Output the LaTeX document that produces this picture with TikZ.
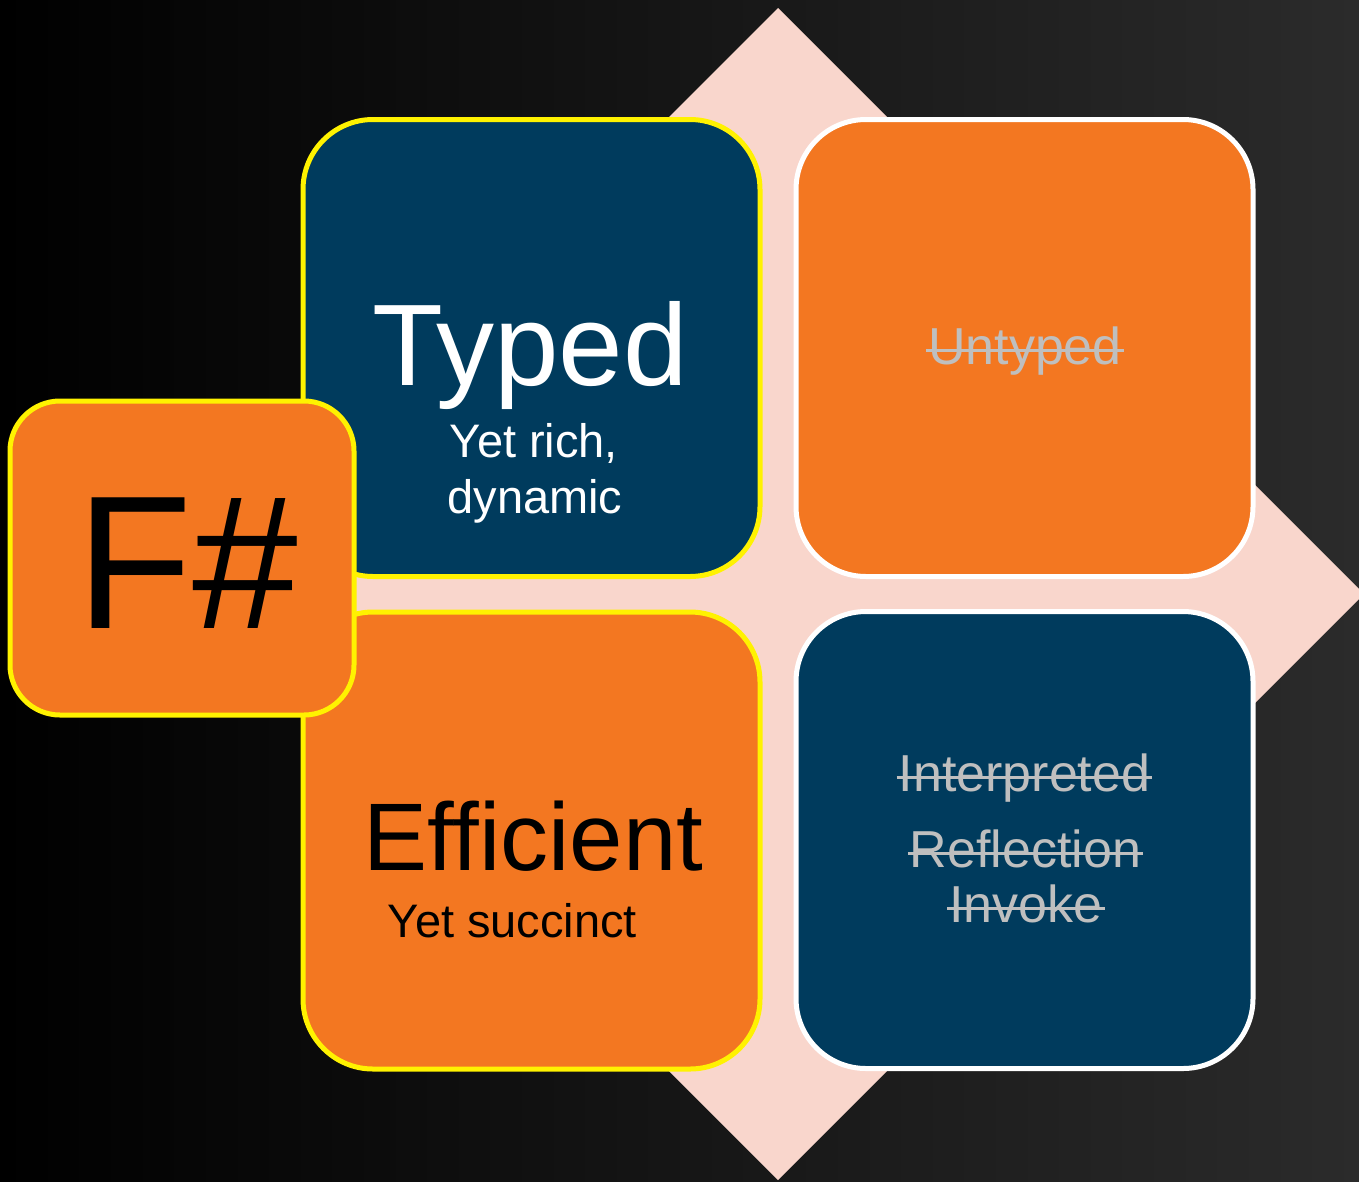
\documentclass[tikz,border=0pt]{standalone}
\usepackage{fontspec}
\setmainfont{Liberation Sans}

\definecolor{navy}{HTML}{003B5D}
\definecolor{tangerine}{HTML}{F37721}
\definecolor{blush}{HTML}{F9D6CC}
\definecolor{struck}{HTML}{BFBFBF}
\definecolor{bgright}{HTML}{2B2B2B}

% word with a line through it
\newsavebox\strkbox
\newcommand\struckword[1]{\sbox\strkbox{#1}%
  \kern-0.04em\rlap{\rule[0.23em]{\dimexpr\wd\strkbox+0.08em\relax}{0.055em}}%
  \kern0.04em\usebox\strkbox}

\begin{document}
\begin{tikzpicture}[x=1pt,y=-1pt,
  tile/.style={rectangle, rounded corners=70pt, minimum width=457pt,
    minimum height=457pt, inner sep=0pt, line width=5pt},
  hilite/.style={draw=yellow},
  plainrim/.style={draw=white},
  word/.style={anchor=base, inner sep=0pt},
  bigword/.style={word, font=\fontsize{116}{139}\selectfont},
  subword/.style={word, font=\fontsize{47}{56}\selectfont},
  gone/.style={word, text=struck, font=\fontsize{52}{62}\selectfont}]

\clip (0,0) rectangle (1359,1181);
\shade[left color=black, right color=bgright] (0,0) rectangle (1359,1181);

% pale diamond behind the tiles
\fill[blush] (778,8) -- (1364,594) -- (778,1180) -- (192,594) -- cycle;

% four tiles
\node[tile, hilite, fill=navy] (typed) at (531.5,348) {};
\node[tile, plainrim, fill=tangerine] (untyped) at (1024.5,348) {};
\node[tile, hilite, fill=tangerine] (efficient) at (531.5,840.5) {};
\node[tile, plainrim, fill=navy] (interp) at (1024.5,840) {};

% language badge
\node[tile, hilite, fill=tangerine, rounded corners=50pt,
  minimum width=344pt, minimum height=314pt] (fsharp) at (182,558) {};

% texts
\node[bigword, text=white] (typedT) at (530,385) {Typed};
\node[subword, text=white] (rich1) at (534,457) {Yet rich,};
\node[subword, text=white] (rich2) at (535,513) {dynamic};

\node[gone] (untypedT) at (1025,364) {\struckword{Untyped}};

\node[word, text=black, font=\fontsize{96}{115}\selectfont] (efficientT) at (533.5,870) {Efficient};
\node[subword, text=black] (succ) at (512.5,937) {Yet succinct};

\node[gone] (interpT) at (1024.5,791) {\struckword{Interpreted}};
\node[gone] (reflT) at (1025.5,867) {\struckword{Reflection}};
\node[gone] (invT) at (1026,922) {\struckword{Invoke}};

\node[word, text=black, font=\fontsize{190}{228}\selectfont] (fsharpT) at (187.5,628) {F\#};
\end{tikzpicture}
\end{document}
